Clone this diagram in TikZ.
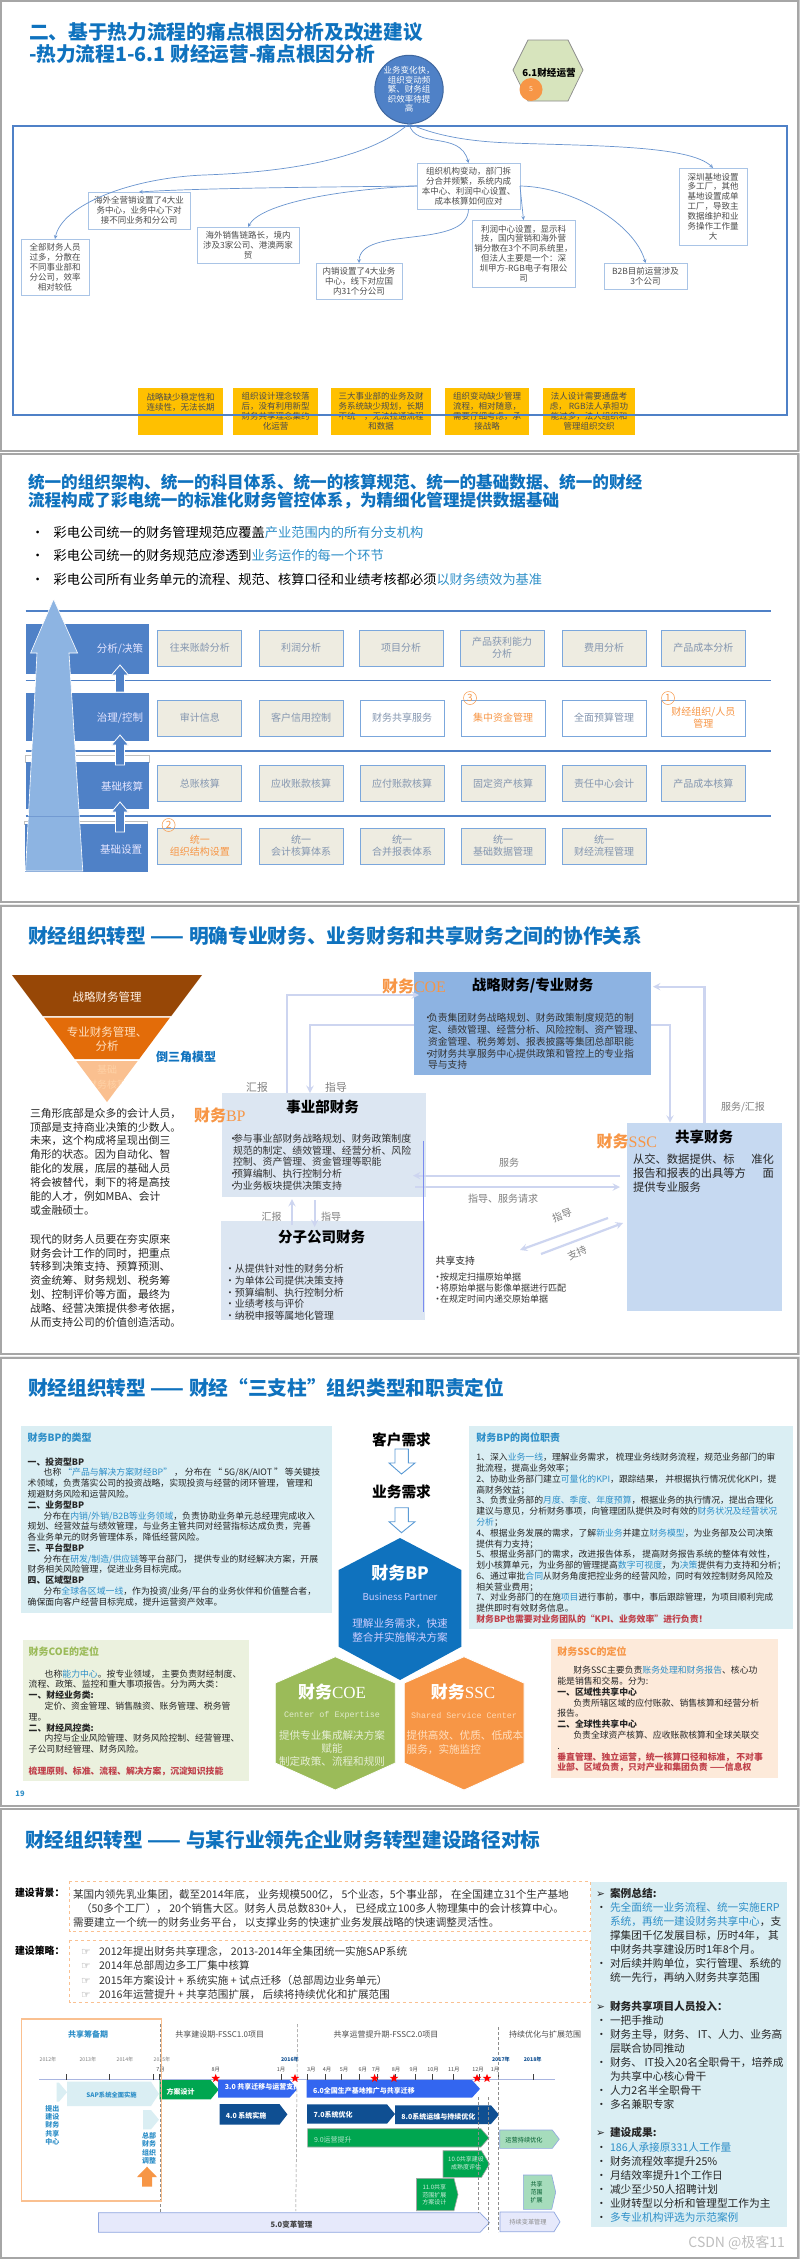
\documentclass[tikz,border=0pt]{standalone}
\usepackage{fontspec}
\setmainfont{Noto Sans CJK SC}
\newfontfamily\dvsym{DejaVu Sans}
\newfontfamily\thinlatin{Liberation Serif}
\newfontfamily\monolatin{Liberation Mono}
\usetikzlibrary{shapes.geometric}
\definecolor{headblue}{HTML}{0F72BE}
\definecolor{linkblue}{HTML}{2E8FC8}
\definecolor{redtxt}{HTML}{C0404A}
\definecolor{orangetxt}{HTML}{F79646}
\definecolor{framegray}{HTML}{A6A6A6}
\definecolor{panelblue}{HTML}{DAEEF3}
\definecolor{panelgreen}{HTML}{EBF1DE}
\definecolor{panelorange}{HTML}{FDEADA}
\definecolor{rulemid}{HTML}{4F81C7}
\definecolor{painline}{HTML}{A9C4E6}
\definecolor{rootyellow}{HTML}{FFC000}
\definecolor{hexsage}{HTML}{D7E4BD}
\definecolor{hexgreen}{HTML}{9BBB59}
\definecolor{arrowsky}{HTML}{8DB4E2}
\definecolor{cellfill}{HTML}{EEECE1}
\definecolor{cellline}{HTML}{7BA7DC}
\definecolor{laven}{HTML}{CDD5F0}
\definecolor{celltxt}{HTML}{8496B0}
\definecolor{graytxt}{HTML}{7F7F7F}
\definecolor{finlight}{HTML}{DCE6F2}
\definecolor{finmid}{HTML}{C6D9F1}
\definecolor{finstrong}{HTML}{8DB3E2}
\definecolor{trbrown}{HTML}{974706}
\definecolor{trorange}{HTML}{E36C09}
\definecolor{trpale}{HTML}{FAC090}
\definecolor{vertblue}{HTML}{7B8CF0}
\definecolor{arrowline}{HTML}{5B9BD5}
\definecolor{barblue}{HTML}{3366F0}
\definecolor{bardark}{HTML}{0F4F92}
\definecolor{bargreen}{HTML}{00A650}
\definecolor{barpale}{HTML}{A6DCBC}
\definecolor{barlav}{HTML}{E6E9FB}
\definecolor{barline}{HTML}{8FA6E0}
\definecolor{axisline}{HTML}{A9B5E0}
\newcommand{\fz}[2]{\fontsize{#1}{#2}\selectfont}
\newcommand{\hlb}[1]{\textcolor{linkblue}{#1}}
\newcommand{\hlr}[1]{\textcolor{redtxt}{#1}}
\newcommand{\indt}{\hspace*{16pt}}
\newcommand{\bdot}{\makebox[5pt][l]{•}}
\newcommand{\pdot}{\makebox[14pt][l]{•}}
\newcommand{\parr}{\makebox[14pt][l]{{\dvsym ➢}}}
\newcommand{\hand}{\makebox[18pt][l]{\textcolor{graytxt}{\dvsym ☞}}}
\newcommand{\tagbar}[6]{\path[#1] (#2,#3) -- ({#4-#6},#3) -- (#4,{(#3+#5)/2}) -- ({#4-#6},#5) -- (#2,#5) -- cycle;}
\newcommand{\uparr}[3]{\path[fill=rulemid,draw=white,line width=0.8pt] ({#1-4.5},#2) -- ({#1-4.5},{#3+10}) -- ({#1-8.5},{#3+10}) -- (#1,#3) -- ({#1+8.5},{#3+10}) -- ({#1+4.5},{#3+10}) -- ({#1+4.5},#2) -- cycle;}
\tikzset{
  every node/.style={inner sep=0pt,outer sep=0pt},
  slidebox/.style={draw=framegray,line width=2pt,fill=white},
  headtxt/.style={anchor=west,text=headblue,font={\fz{19.7}{22}\bfseries}},
  head2txt/.style={anchor=west,text=headblue,font={\fz{16.6}{19}\bfseries}},
  painbox/.style={draw=painline,line width=0.9pt,fill=white,align=center,text=black!70,font={\fz{8.5}{9.9}}},
  rootbox/.style={fill=rootyellow,align=center,text=black!70,font={\fz{8.5}{10}}},
  painlink/.style={->,draw=rulemid!85!white,line width=0.7pt},
  bandline/.style={draw=rulemid,line width=1.6pt},
  layerbox/.style={fill=rulemid},
  layertxt/.style={text=white!90!blue,font={\fz{10.5}{12}}},
  celbox/.style={draw=cellline,line width=1pt,fill=cellfill,minimum width=84pt,minimum height=36pt,align=center,text=celltxt,font={\fz{10}{11.7}}},
  whitecel/.style={celbox,fill=white},
  orangecel/.style={text=orangetxt},
  numring/.style={draw=orangetxt,circle,minimum size=13pt,text=orangetxt,line width=0.5pt,font={\fz{10}{11}}},
  bodytxt/.style={anchor=north west,align=left,text=black!85,font={\fz{10.8}{13.9}}},
  smalltxt/.style={anchor=north west,align=left,text=black!80,font={\fz{9.9}{11.7}}},
  fintitle/.style={text=black,font={\fz{14.5}{16}\bfseries}},
  orangemark/.style={anchor=west,text=orangetxt,font={\fz{16}{18}\bfseries}},
  lavarrow/.style={->,draw=laven,line width=2.2pt},
  graylab/.style={text=graytxt,font={\fz{10}{12}}},
  paneltitle/.style={anchor=west,font={\fz{10}{12}\bfseries}},
  paneltxt/.style={anchor=north west,align=left,text=black!85,font={\fz{8.85}{10.78}}},
  hextitle/.style={text=white,font={\fz{17}{19}\bfseries}},
  hextxt/.style={text=white!80!blue,align=center,font={\fz{10.6}{13}}},
  bartxt/.style={anchor=west,text=white,font={\fz{7}{8.2}\bfseries}},
  yearlab/.style={text=graytxt,font={\fz{5.2}{6}}},
  yearbold/.style={text=bardark,font={\fz{5.2}{6}\bfseries}},
  monthlab/.style={text=black!70,font={\fz{5.4}{6}}},
  phaselab/.style={text=black!70,font={\fz{8}{10}}},
  guide/.style={draw=black!45,line width=0.5pt,densely dashed},
  redstar/.style={star,star points=5,star point ratio=2.4,fill=red,minimum size=9pt},
  stepword/.style={text=linkblue,align=center,font={\fz{7}{8.3}\bfseries}},
}
\begin{document}
\begin{tikzpicture}[>=stealth,x=1pt,y=-1pt]
\useasboundingbox (0,0) rectangle (800,2259);
\fill[framegray!60] (0,0) rectangle (800,2259);
\fill[white] (0,451.5) rectangle (800,453) (0,903) rectangle (800,904.5) (0,1355) rectangle (800,1356.5) (0,1806.5) rectangle (800,1808);
\path[slidebox] (1,1) rectangle (798,450.5);
\path[slidebox] (1,454) rectangle (798,902);
\path[slidebox] (1,905.5) rectangle (798,1354);
\path[slidebox] (1,1357.5) rectangle (798,1805.5);
\path[slidebox] (1,1809) rectangle (798,2258);

% slide one
\node[headtxt] (sa1) at (29,32) {二、基于热力流程的痛点根因分析及改进建议};
\node[headtxt] (sa2) at (29,54) {-热力流程1-6.1 财经运营-痛点根因分析};
\node[draw=rulemid!80!black,line width=1pt,fill=rulemid,circle,minimum size=60pt,align=center,text=white,font={\fz{8.5}{9.4}}] (cause) at (409,89.5) {业务变化快，\\组织变动频\\繁、财务组\\织效率待提\\高};
\path[draw=black!45,line width=0.7pt,fill=hexsage] (513,70) -- (528,40) -- (568,40) -- (583,70) -- (568,101) -- (528,101) -- cycle;
\node[font={\fz{9.6}{11}\bfseries}] (optag) at (549,72.5) {6.1财经运营};
\node[circle,fill=orangetxt,minimum size=23pt,text=white!85!orange,font={\fz{7}{8}}] (opnum) at (531,89.5) {5};
\node[painbox,minimum width=103pt,minimum height=46pt] (org) at (468.5,186) {组织机构变动，部门拆\\分合并频繁，系统内成\\本中心、利润中心设置、\\成本核算如何应对};
\node[painbox,minimum width=102pt,minimum height=37pt] (ovs) at (139,210.5) {海外全营销设置了4大业\\务中心，业务中心下对\\接不同业务和分公司};
\node[painbox,minimum width=68pt,minimum height=56pt] (stf) at (55,267) {全部财务人员\\过多，分散在\\不同事业部和\\分公司，效率\\相对较低};
\node[painbox,minimum width=102pt,minimum height=36pt] (sal) at (248,245) {海外销售链路长，境内\\涉及3家公司、港澳两家\\贸};
\node[painbox,minimum width=86pt,minimum height=36pt] (dom) at (359,281) {内销设置了4大业务\\中心，线下对应国\\内31个分公司};
\node[painbox,minimum width=103pt,minimum height=67pt] (prf) at (523.5,253.5) {利润中心设置，显示科\\技，国内营销和海外营\\销分散在3个不同系统里，\\但法人主要是一个：深\\圳甲方-RGB电子有限公\\司};
\node[painbox,minimum width=83pt,minimum height=26pt] (btb) at (645.5,276) {B2B目前运营涉及\\3个公司};
\node[painbox,minimum width=68pt,minimum height=77pt] (szn) at (713,206.5) {深圳基地设置\\多工厂，其他\\基地设置成单\\工厂，导致主\\数据维护和业\\务操作工作量\\大};
\node[rootbox,minimum width=85pt,minimum height=47pt] (ra) at (180.5,411.5) {战略缺少稳定性和\\连续性，无法长期\\~\\~};
\node[rootbox,minimum width=85pt,minimum height=47pt] (rb) at (275.5,411.5) {组织设计理念较落\\后，没有利用新型\\财务共享理念集约\\化运营};
\node[rootbox,minimum width=99.5pt,minimum height=47pt] (rc) at (381,411.5) {三大事业部的业务及财\\务系统缺少规划，长期\\不统一，无法拉通流程\\和数据};
\node[rootbox,minimum width=84pt,minimum height=47pt] (rd) at (487,411.5) {组织变动缺少管理\\流程，相对随意，\\需要仔细考虑，承\\接战略};
\node[rootbox,minimum width=92pt,minimum height=47pt] (re) at (589,411.5) {法人设计需要通盘考\\虑， RGB法人承担功\\能过多，法人组织和\\管理组织交织};
\draw[draw=rulemid,line width=1.3pt] (13,126) rectangle (787,415);
\coordinate (bendstf) at (204,175);
\coordinate (bendszn) at (511,143);
\draw[painlink] (cause.south) .. controls (370,158) and (290,172) .. (bendstf) .. controls (130,178) and (62,205) .. (stf.north);
\draw[painlink] (cause.south) .. controls (415,150) and (460,130) .. (org.north);
\draw[painlink] (cause.south) .. controls (440,138) and (480,142) .. (bendszn) .. controls (590,146) and (690,145) .. (szn.north);
\draw[painlink] (org.west) .. controls (330,187) and (200,188) .. (ovs.north);
\draw[painlink] (org.west) .. controls (330,190) and (260,205) .. (sal.north);
\draw[painlink] (org.south) .. controls (468,250) and (360,225) .. (dom.north);
\draw[painlink] (org.east) -- (prf.north);
\draw[painlink] (org.east) .. controls (575,187) and (635,225) .. (btb.north);

% slide two
\node[head2txt] (sb1) at (28,482) {统一的组织架构、统一的科目体系、统一的核算规范、统一的基础数据、统一的财经};
\node[head2txt] (sb2) at (28,501) {流程构成了彩电统一的标准化财务管控体系，为精细化管理提供数据基础};
\node[anchor=west,font={\fz{13.2}{15}}] (lia) at (31,532) {•\hspace{9.5pt}彩电公司统一的财务管理规范应覆盖\hlb{产业范围内的所有分支机构}};
\node[anchor=west,font={\fz{13.2}{15}}] (lib) at (31,555) {•\hspace{9.5pt}彩电公司统一的财务规范应渗透到\hlb{业务运作的每一个环节}};
\node[anchor=west,font={\fz{13.2}{15}}] (lic) at (31,579) {•\hspace{9.5pt}彩电公司所有业务单元的流程、规范、核算口径和业绩考核都必须\hlb{以财务绩效为基准}};
\draw[bandline] (25.5,611) -- (771,611);
\draw[bandline] (25.5,680.5) -- (771,680.5);
\draw[bandline] (25.5,751) -- (771,751);
\draw[bandline] (25.5,816) -- (771,816);
\path[fill=white,draw=black!25] (25.5,755) rectangle (149,762);
\path[fill=white,draw=black!25] (24.5,821.5) rectangle (147.6,824);
\node[layerbox,minimum width=123.5pt,minimum height=50pt] (lya) at (87.25,649) {};
\node[layerbox,minimum width=123.5pt,minimum height=48pt] (lyb) at (87.25,717) {};
\node[layerbox,minimum width=123.5pt,minimum height=47pt] (lyc) at (87.25,785.5) {};
\node[layerbox,minimum width=123pt,minimum height=48pt] (lyd) at (86,848) {};
\node[layertxt] (tya) at (120,649) {分析/决策};
\node[layertxt] (tyb) at (120,718) {治理/控制};
\node[layertxt] (tyc) at (122,786) {基础核算};
\node[layertxt] (tyd) at (121,850) {基础设置};
\uparr{120}{692}{665}
\uparr{120}{765}{735}
\uparr{120}{832}{802}
\path[fill=arrowsky,draw=white,line width=0.6pt] (53.6,599) -- (77.6,653) -- (69,653) -- (82.8,871) -- (25.5,871) -- (37,653) -- (30.6,653) -- cycle;
\draw[draw=rulemid!80!white,line width=1pt] (28,816) -- (79,816);
\node[celbox] (ca1) at (199.8,648) {往来账龄分析};
\node[celbox] (ca2) at (301,648) {利润分析};
\node[celbox] (ca3) at (401,648) {项目分析};
\node[celbox] (ca4) at (502,648) {产品获利能力\\分析};
\node[celbox] (ca5) at (604,648) {费用分析};
\node[celbox] (ca6) at (703.3,648) {产品成本分析};
\node[celbox] (cb1) at (199.8,718) {审计信息};
\node[celbox] (cb2) at (301,718) {客户信用控制};
\node[whitecel] (cb3) at (402,718) {财务共享服务};
\node[whitecel,orangecel] (cb4) at (503,718) {集中资金管理};
\node[whitecel] (cb5) at (604,718) {全面预算管理};
\node[whitecel,orangecel] (cb6) at (703.3,718) {财经组织/人员\\管理};
\node[celbox] (cc1) at (199.8,783.5) {总账核算};
\node[celbox] (cc2) at (301,783.5) {应收账款核算};
\node[celbox] (cc3) at (402,783.5) {应付账款核算};
\node[celbox] (cc4) at (503,783.5) {固定资产核算};
\node[celbox] (cc5) at (604,783.5) {责任中心会计};
\node[celbox] (cc6) at (703.3,783.5) {产品成本核算};
\node[celbox,orangecel] (cd1) at (199.8,846) {统一\\组织结构设置};
\node[celbox] (cd2) at (301,846) {统一\\会计核算体系};
\node[celbox] (cd3) at (402,846) {统一\\合并报表体系};
\node[celbox] (cd4) at (503,846) {统一\\基础数据管理};
\node[celbox] (cd5) at (604,846) {统一\\财经流程管理};
\node[numring] (nr3) at (470,698) {3};
\node[numring] (nr1) at (668,698) {1};
\node[numring] (nr2) at (168.6,825) {2};

% slide three
\node[headtxt] (sc1) at (28,936) {财经组织转型 —— 明确专业财务、业务财务和共享财务之间的协作关系};
\path[fill=trbrown] (12,975) -- (202,975) -- (171.3,1016) -- (42.7,1016) -- cycle;
\path[fill=trorange] (44,1017.5) -- (170,1017.5) -- (139.2,1059) -- (74.8,1059) -- cycle;
\path[fill=trpale] (76.3,1061) -- (137.7,1061) -- (107,1102) -- cycle;
\node[text=white!90!orange,font={\fz{11.5}{13}}] (tra) at (107,997) {战略财务管理};
\node[text=white!75!orange,align=center,font={\fz{11.5}{13.7}}] (trb) at (107,1039) {专业财务管理、\\分析};
\begin{scope}
\clip (76.3,1061) -- (137.7,1061) -- (107,1102) -- cycle;
\node[text=white!65!orange,align=center,font={\fz{10}{15.5}}] (trc) at (107,1077) {基础\\财务核算};
\end{scope}
\node[text=headblue,font={\fz{12}{14}\bfseries}] (trm) at (186,1057) {倒三角模型};
\node[bodytxt] (para1) at (30,1108) {三角形底部是众多的会计人员，\\顶部是支持商业决策的少数人。\\未来，这个构成将呈现出倒三\\角形的状态。因为自动化、智\\能化的发展，底层的基础人员\\将会被替代，剩下的将是高技\\能的人才，例如MBA、会计\\或金融硕士。};
\node[bodytxt] (para2) at (30,1234) {现代的财务人员要在夯实原来\\财务会计工作的同时，把重点\\转移到决策支持、预算预测、\\资金统筹、财务规划、税务筹\\划、控制评价等方面，最终为\\战略、经营决策提供参考依据，\\从而支持公司的价值创造活动。};
\node[fill=finlight,minimum width=203.7pt,minimum height=104pt] (bizfin) at (323.85,1145) {};
\node[fill=finlight,minimum width=204pt,minimum height=99.3pt] (subfin) at (323,1270.35) {};
\node[fill=finstrong,minimum width=237.3pt,minimum height=103pt] (coefin) at (532.35,1023.5) {};
\node[fill=finmid,minimum width=155pt,minimum height=188.3pt] (sscfin) at (704.5,1216.85) {};
\coordinate (bizup) at (287,1093);
\coordinate (bizdn) at (310,1093);
\coordinate (coein) at (419,995);
\coordinate (coeout) at (413.7,1024.7);
\coordinate (coeright) at (651,1024.7);
\coordinate (sscin) at (670,1122.7);
\coordinate (coeback) at (653,986.7);
\coordinate (subup) at (292,1225);
\coordinate (bizlow) at (292,1199);
\coordinate (bizlow2) at (314.7,1200);
\coordinate (subdn) at (314.7,1227);
\coordinate (svcr) at (620,1175.7);
\coordinate (svcl) at (413,1175.7);
\coordinate (reql) at (415,1187);
\coordinate (reqr) at (620,1187);
\coordinate (guidr) at (608,1218);
\coordinate (guidl) at (520,1250);
\coordinate (supl) at (541,1254);
\coordinate (supr) at (623,1223);
\draw[lavarrow] (bizup) |- (coein);
\draw[lavarrow] (coeout) -| (bizdn);
\draw[lavarrow] (coeright) -| (sscin);
\draw[lavarrow] (sscfin.north) |- (coeback);
\draw[lavarrow] (subup) -- (bizlow);
\draw[lavarrow] (bizlow2) -- (subdn);
\draw[lavarrow] (svcr) -- (svcl);
\draw[lavarrow] (reql) -- (reqr);
\draw[lavarrow] (guidr) -- (guidl);
\draw[lavarrow] (supl) -- (supr);
\draw[draw=vertblue,line width=1.3pt] (423.7,1140.7) -- (423.7,1311.7);
\node[fintitle] (tbiz) at (322.7,1107) {事业部财务};
\node[fintitle] (tsub) at (321.7,1237) {分子公司财务};
\node[fintitle] (tcoe) at (532.7,986) {战略财务/专业财务};
\node[fintitle] (tssc) at (704,1136.7) {共享财务};
\node[orangemark] (mbp) at (194,1115.7) {财务{\thinlatin\mdseries BP}};
\node[orangemark] (mcoe) at (382,986) {财务{\thinlatin\mdseries COE}};
\node[orangemark] (mssc) at (596.7,1141.7) {财务{\thinlatin\mdseries SSC}};
\node[smalltxt] (xbiz) at (228,1134) {\bdot 参与事业部财务战略规划、财务政策制度\\\hspace*{5pt}规范的制定、绩效管理、经营分析、风险\\\hspace*{5pt}控制、资产管理、资金管理等职能\\\bdot 预算编制、执行控制分析\\\bdot 为业务板块提供决策支持};
\node[smalltxt] (xsub) at (225,1264.4) {•从提供针对性的财务分析\\•为单体公司提供决策支持\\•预算编制、执行控制分析\\•业绩考核与评价\\•纳税申报等属地化管理};
\node[smalltxt,text width=230pt,font={\fz{9.8}{11.8}}] (xcoe) at (423,1013.4) {\bdot 负责集团财务战略规划、财务政策制度规范的制\\\hspace*{5pt}定、绩效管理、经营分析、风险控制、资产管理、\\\hspace*{5pt}资金管理、税务筹划、报表披露等集团总部职能\\\bdot 对财务共享服务中心提供政策和管控上的专业指\\\hspace*{5pt}导与支持};
\node[bodytxt,text width=141pt,font={\fz{11.3}{14}}] (xssc) at (633,1153.4) {从交、数据提供、标\hfill 准化\\报告和报表的出具等方\hfill 面\\提供专业服务};
\node[graylab,font={\fz{10.8}{12}}] (la1) at (257,1087) {汇报};
\node[graylab,font={\fz{10.8}{12}}] (la2) at (336,1087) {指导};
\node[graylab] (la3) at (271.7,1217) {汇报};
\node[graylab] (la4) at (331,1217) {指导};
\node[graylab] (la5) at (743,1106.7) {服务/汇报};
\node[graylab] (la6) at (509,1163) {服务};
\node[graylab] (la7) at (503,1199) {指导、服务请求};
\node[graylab,rotate=20] (la8) at (562,1215) {指导};
\node[graylab,rotate=25] (la9) at (577,1253) {支持};
\node[anchor=west,text=black!85,font={\fz{9.8}{11}}] (shr) at (435.7,1261) {共享支持};
\node[anchor=north west,align=left,text=black!80,font={\fz{9}{10.9}}] (shl) at (433,1273) {\makebox[7pt][l]{•}按规定扫描原始单据\\\makebox[7pt][l]{•}将原始单据与影像单据进行匹配\\\makebox[7pt][l]{•}在规定时间内递交原始单据};

% slide four
\node[headtxt] (sd1) at (28,1388) {财经组织转型 —— 财经“三支柱”组织类型和职责定位};
\node[fill=panelblue,minimum width=311pt,minimum height=187pt] (bpkind) at (176.5,1519.5) {};
\node[paneltitle,text=linkblue] (bpkt) at (27.7,1438) {财务BP的类型};
\node[paneltxt] (bpkx) at (27.7,1457.6) {{\bfseries 一、投资型BP}\\\indt 也称 \hlb{“产品与解决方案财经BP”} ， 分布在 “ 5G/8K/AIOT ” 等关键技\\术领域，负责落实公司的投资战略，实现投资与经营的闭环管理， 管理和\\规避财务风险和运营风险。\\{\bfseries 二、业务型BP}\\\indt 分布在\hlb{内销/外销/B2B等业务领域}，负责协助业务单元总经理完成收入\\规划、经营效益与绩效管理，与业务主管共同对经营指标达成负责，完善\\各业务单元的财务管理体系，降低经营风险。\\{\bfseries 三、平台型BP}\\\indt 分布在\hlb{研发/制造/供应链}等平台部门， 提供专业的财经解决方案，开展\\财务相关风险管理，促进业务目标完成。\\{\bfseries 四、区域型BP}\\\indt 分布\hlb{全球各区域一线}，作为投资/业务/平台的业务伙伴和价值整合者，\\确保面向客户经营目标完成，提升运营资产效率。};
\node[fill=panelgreen,minimum width=226.6pt,minimum height=140.7pt] (coepos) at (136,1710.35) {};
\node[paneltitle,text=hexgreen] (coept) at (28.7,1652) {财务COE的定位};
\node[paneltxt] (coepx) at (28.7,1669.6) {\indt 也称\hlb{能力中心}。按专业领域， 主要负责财经制度、\\流程、政策、监控和重大事项报告。分为两大类：\\{\bfseries 一、财经业务类:}\\\indt 定价、资金管理、销售融资、账务管理、税务管\\理。\\{\bfseries 二、财经风控类:}\\\indt 内控与企业风险管理、财务风险控制、经营管理、\\子公司财经管理、财务风险。\\~\\{\bfseries\hlr{梳理原则、标准、流程、解决方案，沉淀知识技能}}};
\node[text=linkblue,font={\fz{7.5}{8}\bfseries}] (pgn) at (20,1794) {19};
\node[text=black,font={\fz{14.7}{16}\bfseries}] (kh) at (401.5,1440) {客户需求};
\node[text=black,font={\fz{14.7}{16}\bfseries}] (yw) at (401.5,1492) {业务需求};
\path[draw=arrowline,line width=0.9pt,fill=white] (395,1449) -- (408.3,1449) -- (408.3,1463) -- (415,1463) -- (401.5,1474) -- (389,1463) -- (395,1463) -- cycle;
\path[draw=arrowline,line width=0.9pt,fill=white] (395,1507.7) -- (408.3,1507.7) -- (408.3,1521.7) -- (415,1521.7) -- (401.5,1532.7) -- (389,1521.7) -- (395,1521.7) -- cycle;
\path[fill=headblue] (400,1538) -- (461.3,1570) -- (461.3,1646.7) -- (400,1680) -- (338.7,1646.7) -- (338.7,1570) -- cycle;
\path[fill=hexgreen,draw=white,line width=0.8pt] (335.3,1656.7) -- (395.3,1683) -- (395.3,1763) -- (335.3,1790) -- (275.3,1763) -- (275.3,1683) -- cycle;
\path[fill=orangetxt,draw=white,line width=0.8pt] (464,1656.7) -- (524,1683) -- (524,1763) -- (464,1790) -- (404.3,1763) -- (404.3,1683) -- cycle;
\node[hextitle] (hba) at (400,1573) {财务BP};
\node[hextxt,font={\fz{9.6}{11}}] (hbb) at (400,1596.7) {Business Partner};
\node[hextxt,font={\fz{10.6}{14}}] (hbc) at (400,1630) {理解业务需求，快速\\整合并实施解决方案};
\node[hextitle] (hca) at (332,1691.7) {财务{\thinlatin\mdseries COE}};
\node[hextxt,text=white!70!hexgreen,font={\fz{8.4}{10}\monolatin}] (hcb) at (332,1715) {Center of Expertise};
\node[hextxt,text=white!75!hexgreen,font={\fz{10.6}{12.7}}] (hcc) at (332,1748.5) {提供专业集成解决方案\\赋能\\制定政策、流程和规则};
\node[hextitle] (hsa) at (463,1691.7) {财务{\thinlatin\mdseries SSC}};
\node[hextxt,text=white!70!orange,font={\fz{8.4}{10}\monolatin}] (hsb) at (464,1715) {Shared Service Center};
\node[hextxt,text=white!75!orange,align=left,font={\fz{10.6}{13.3}}] (hsc) at (465,1742.7) {提供高效、优质、低成本\\服务，实施监控\hspace*{32pt}};
\node[fill=panelblue,minimum width=324pt,minimum height=203.3pt] (bpduty) at (631.3,1527.65) {};
\node[paneltitle,text=linkblue] (bpdt) at (476.3,1438) {财务BP的岗位职责};
\node[paneltxt] (bpdx) at (476.3,1453.3) {1、深入\hlb{业务一线}，理解业务需求， 梳理业务线财务流程，规范业务部门的审\\批流程，提高业务效率；\\2、协助业务部门建立\hlb{可量化的KPI}，跟踪结果， 并根据执行情况优化KPI，提\\高财务效益；\\3、负责业务部的\hlb{月度、季度、年度预算}，根据业务的执行情况，提出合理化\\建议与意见，分析财务事项，向管理团队提供及时有效的\hlb{财务状况及经营状况}\\\hlb{分析}；\\4、根据业务发展的需求，了解\hlb{新业务}并建立\hlb{财务模型}，为业务部及公司决策\\提供有力支持；\\5、根据业务部门的需求，改进报告体系， 提高财务报告系统的整体有效性，\\划小核算单元，为业务部的管理提高\hlb{数字可视度}，为\hlb{决策}提供有力支持和分析；\\6、通过审批\hlb{合同}从财务角度把控业务的经营风险，同时有效控制财务风险及\\相关营业费用；\\7、对业务部门的在施\hlb{项目}进行事前，事中，事后跟踪管理，为项目顺利完成\\提供即时有效财务信息。\\{\bfseries\hlr{财务BP也需要对业务团队的“KPI、业务效率”进行负责！}}};
\node[fill=panelorange,minimum width=227.6pt,minimum height=138.4pt] (sscpos) at (664.5,1708.5) {};
\node[paneltitle,text=orangetxt] (sscpt) at (557.3,1651.3) {财务SSC的定位};
\node[paneltxt] (sscpx) at (557.3,1666.3) {\indt 财务SSC主要负责\hlb{账务处理和财务报告}、核心功\\能是销售和交易。分为:\\{\bfseries 一、区域性共享中心}\\\indt 负责所辖区域的应付账款、销售核算和经营分析\\报告。\\{\bfseries 二、全球性共享中心}\\\indt 负责全球资产核算、应收账款核算和全球关联交\\.\\{\bfseries\hlr{垂直管理、独立运营，统一核算口径和标准， 不对事}}\\{\bfseries\hlr{业部、区域负责，只对产业和集团负责 ——信息权}}};

% slide five
\node[headtxt] (se1) at (25,1840) {财经组织转型 —— 与某行业领先企业财务转型建设路径对标};
\node[anchor=west,font={\fz{9.9}{11}\bfseries}] (bga) at (15,1893) {建设背景：};
\node[anchor=west,font={\fz{9.9}{11}\bfseries}] (bgb) at (15,1951) {建设策略：};
\draw[draw=trpale,line width=0.9pt,dashed] (69.6,1881) rectangle (590,1931.7);
\draw[draw=trpale,line width=0.9pt,dashed] (69.6,1940) rectangle (590,2002.7);
\node[anchor=north west,align=left,text=black!80,font={\fz{10.6}{13.9}}] (bgx) at (73,1889.7) {某国内领先乳业集团，截至2014年底， 业务规模500亿， 5个业态，5个事业部， 在全国建立31个生产基地\\\hspace*{8pt}（50多个工厂）， 20个销售大区。财务人员总数830+人， 已经成立100多人物理集中的会计核算中心。\\需要建立一个统一的财务业务平台， 以支撑业务的快速扩业务发展战略的快速调整灵活性。};
\node[anchor=north west,align=left,text=black!80,font={\fz{10.6}{14.5}}] (stx) at (81,1946) {\hand 2012年提出财务共享理念， 2013-2014年全集团统一实施SAP系统\\\hand 2014年总部周边多工厂集中核算\\\hand 2015年方案设计 + 系统实施 + 试点迁移（总部周边业务单元）\\\hand 2016年运营提升 + 共享范围扩展， 后续将持续优化和扩展范围};
\node[fill=panelblue,minimum width=195.4pt,minimum height=345pt] (casep) at (689,2054.2) {};
\node[anchor=north west,align=left,text=black!85,font={\fz{10.7}{14.1}}] (casex) at (596,1888) {\parr {\bfseries 案例总结:}\\\pdot \hlb{先全面统一业务流程、统一实施ERP}\\\hspace*{14pt}\hlb{系统，再统一建设财务共享中心}，支\\\hspace*{14pt}撑集团千亿发展目标，历时4年， 其\\\hspace*{14pt}中财务共享建设历时1年8个月。\\\pdot 对后续并购单位，实行管理、系统的\\\hspace*{14pt}统一先行，再纳入财务共享范围\\~\\\parr {\bfseries 财务共享项目人员投入：}\\\pdot 一把手推动\\\pdot 财务主导，财务、 IT、人力、业务高\\\hspace*{14pt}层联合协同推动\\\pdot 财务、 IT投入20名全职骨干，培养成\\\hspace*{14pt}为共享中心核心骨干\\\pdot 人力2名半全职骨干\\\pdot 多名兼职专家\\~\\\parr {\bfseries 建设成果:}\\\pdot \hlb{186人承接原331人工作量}\\\pdot 财务流程效率提升25\%\\\pdot 月结效率提升1个工作日\\\pdot 减少至少50人招聘计划\\\pdot 业财转型以分析和管理型工作为主\\\pdot \hlb{多专业机构评选为示范案例}};
\node[anchor=east,text=black!25,font={\fz{14}{16}}] (wm) at (785,2243) {CSDN @极客11};
\node[text=linkblue,font={\fz{8}{10}\bfseries}] (pha) at (88,2034.3) {共享筹备期};
\node[phaselab] (phb) at (219.7,2034.3) {共享建设期-FSSC1.0项目};
\node[phaselab] (phc) at (386,2034.3) {共享运营提升期-FSSC2.0项目};
\node[phaselab] (phd) at (545,2034.3) {持续优化与扩展范围};
\node[yearlab] (y12) at (48,2059.7) {2012年};
\node[yearlab] (y13) at (87.9,2059.7) {2013年};
\node[yearlab] (y14) at (125,2059.7) {2014年};
\node[yearlab] (y15) at (162,2059.7) {2015年};
\node[yearbold] (y16) at (290,2059.7) {2016年};
\node[yearbold] (y17) at (501,2059.7) {2017年};
\node[yearbold] (y18) at (532.7,2059.7) {2018年};
\draw[draw=axisline,line width=1.3pt] (39,2079.7) -- (555,2079.7);
\draw[draw=black!75,line width=0.6pt] (66.6,2074) -- (66.6,2079.7) (109.5,2074) -- (109.5,2079.7) (152.8,2074) -- (152.8,2079.7) (159.6,2074) -- (159.6,2079.7) (281.3,2074) -- (281.3,2079.7) (307.3,2074) -- (307.3,2079.7) (324.9,2074) -- (324.9,2079.7) (341.5,2074) -- (341.5,2079.7) (359,2074) -- (359,2079.7) (376.9,2074) -- (376.9,2079.7) (395.5,2074) -- (395.5,2079.7) (414.8,2074) -- (414.8,2079.7) (432.7,2074) -- (432.7,2079.7) (453,2074) -- (453,2079.7) (479,2074) -- (479,2079.7) (498.3,2074) -- (498.3,2079.7) (533,2074) -- (533,2079.7);
\node[monthlab] (m0) at (160.6,2069.3) {7月};
\node[monthlab] (m1) at (215.7,2069.3) {8月};
\node[monthlab] (m2) at (281,2069.3) {1月};
\node[monthlab] (m3) at (311.4,2069.3) {3月};
\node[monthlab] (m4) at (327,2069.3) {4月};
\node[monthlab] (m5) at (344,2069.3) {5月};
\node[monthlab] (m6) at (362.7,2069.3) {6月};
\node[monthlab] (m7) at (376,2069.3) {7月};
\node[monthlab] (m8) at (396,2069.3) {8月};
\node[monthlab] (m9) at (413.8,2069.3) {9月};
\node[monthlab] (m10) at (433,2069.3) {10月};
\node[monthlab] (m11) at (453.7,2069.3) {11月};
\node[monthlab] (m12) at (478,2069.3) {12月};
\node[monthlab] (m13) at (495,2069.3) {1月};
\tagbar{fill=panelblue}{56.5}{2082.7}{67}{2101.7}{8}
\tagbar{fill=panelblue}{67}{2081.7}{159}{2106}{8}
\tagbar{fill=panelblue}{143}{2110}{159}{2129.3}{8}
\tagbar{fill=bargreen}{159.6}{2080}{218.7}{2099.3}{8}
\tagbar{fill=barblue}{218}{2080}{297.5}{2097.7}{8}
\tagbar{fill=bardark}{219.7}{2104}{287.4}{2124.7}{8}
\tagbar{fill=barblue}{306.6}{2080}{480}{2097.7}{8}
\tagbar{fill=bardark}{307}{2104.3}{395}{2123.7}{8}
\tagbar{fill=bardark}{395}{2105.3}{499}{2124}{8}
\tagbar{fill=bargreen,draw=black!35,line width=0.6pt}{307.6}{2128.7}{489}{2147}{8}
\tagbar{fill=bargreen,draw=black!35,line width=0.6pt}{443}{2150.7}{489.5}{2177.3}{8}
\tagbar{fill=bargreen,draw=black!35,line width=0.6pt}{416.5}{2178.3}{458}{2210.7}{4}
\tagbar{fill=barpale,draw=barline,line width=0.6pt}{499.7}{2130}{559.3}{2148.3}{7}
\tagbar{fill=barpale,draw=barline,line width=0.6pt}{523.3}{2175}{555.7}{2209.3}{4}
\tagbar{fill=barlav,draw=barline,line width=0.7pt}{98.4}{2212.7}{489.5}{2232.3}{9.5}
\tagbar{fill=barlav,draw=barline,line width=0.7pt}{500}{2212}{560}{2231.7}{6}
\draw[guide] (160,2024) -- (160,2212);
\draw[guide] (297.5,2024) -- (295.8,2211);
\draw[guide] (498.6,2027) -- (498.6,2232);
\draw[guide] (478,2097) -- (478,2213);
\draw[guide] (487.8,2097) -- (487.8,2232);
\node[redstar] (st1) at (215.7,2078.3) {};
\node[redstar] (st2) at (295,2078.3) {};
\node[redstar] (st3) at (374.6,2078.3) {};
\node[redstar] (st4) at (394,2078.3) {};
\node[redstar] (st5) at (477,2078.3) {};
\node[redstar] (st6) at (487,2078.3) {};
\node[text=linkblue,font={\fz{6.3}{8}\bfseries}] (bsap) at (111.6,2094.7) {SAP系统全面实施};
\node[stepword] (wa) at (52.4,2125.2) {提出\\建设\\财务\\共享\\中心};
\node[stepword] (wb) at (149,2148.3) {总部\\财务\\组织\\调整};
\path[fill=orangetxt] (147,2166.7) -- (157,2177) -- (152,2177) -- (152,2186.7) -- (142,2186.7) -- (142,2177) -- (137,2177) -- cycle;
\draw[draw=trpale,line width=1.4pt] (21.3,2019) rectangle (161.6,2201);
\node[bartxt] (ba) at (166.5,2091.7) {方案设计};
\node[bartxt,anchor=north west] (bb) at (224.8,2083) {3.0 共享迁移与运营\\支撑};
\node[bartxt] (bc) at (225.8,2116) {4.0 系统实施};
\node[bartxt] (bd) at (313,2090.7) {6.0全国生产基地推广与共享迁移};
\node[bartxt] (be) at (313.7,2114.7) {7.0系统优化};
\node[bartxt] (bf) at (401.3,2116.7) {8.0系统运维与持续优化};
\node[bartxt,text=white!70!bargreen,font={\fz{7}{8.2}}] (bg) at (314,2139.7) {9.0运营提升};
\node[text=white!80!bargreen,align=center,font={\fz{6}{7.4}}] (bh) at (466,2163) {10.0共享建设\\成熟度评估};
\node[text=white!80!bargreen,align=center,font={\fz{6}{7.5}}] (bi) at (434.4,2195) {11.0共享\\范围扩展\\方案设计};
\node[text=black!75,font={\fz{7.5}{9}\bfseries}] (bj) at (291.4,2224.3) {5.0变革管理};
\node[text=black!45!bargreen,anchor=west,font={\fz{6.2}{7.5}}] (bk) at (505.4,2139.7) {运营持续优化};
\node[text=black!45!bargreen,align=center,font={\fz{6}{8.1}}] (bl) at (536.7,2192.5) {共享\\范围\\扩展};
\node[text=black!45,font={\fz{6.2}{7.5}}] (bm) at (528,2222) {持续变革管理};
\end{tikzpicture}
\end{document}
